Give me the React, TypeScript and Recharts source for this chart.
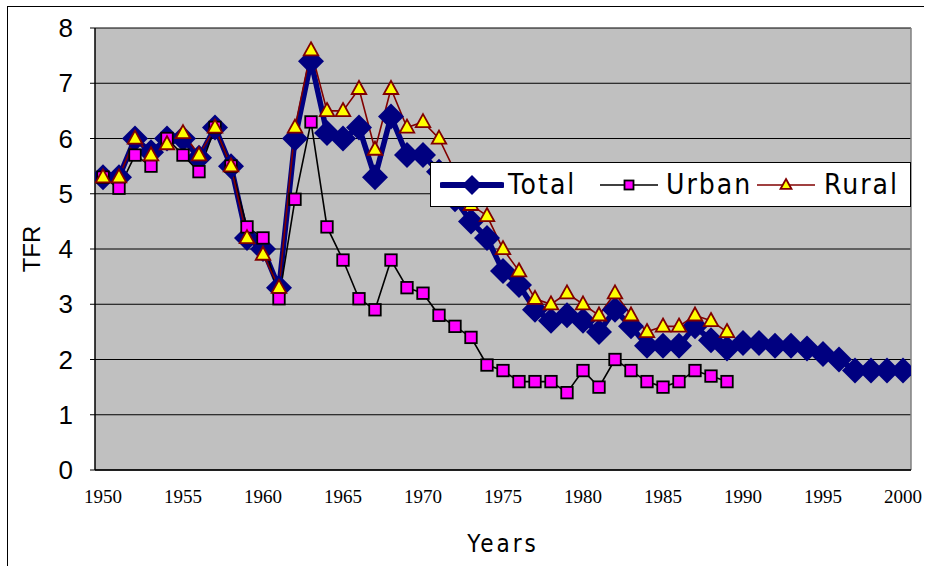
import { CartesianGrid, Legend, Line, LineChart, ReferenceLine, XAxis, YAxis } from "recharts";

const YEARS = [
  1950, 1951, 1952, 1953, 1954, 1955, 1956, 1957, 1958, 1959,
  1960, 1961, 1962, 1963, 1964, 1965, 1966, 1967, 1968, 1969,
  1970, 1971, 1972, 1973, 1974, 1975, 1976, 1977, 1978, 1979,
  1980, 1981, 1982, 1983, 1984, 1985, 1986, 1987, 1988, 1989,
  1990, 1991, 1992, 1993, 1994, 1995, 1996, 1997, 1998, 1999, 2000,
];

const TOTAL = [
  5.3, 5.3, 6.0, 5.75, 6.0, 6.0, 5.65, 6.2, 5.5, 4.2,
  4.0, 3.3, 6.0, 7.4, 6.1, 6.0, 6.2, 5.3, 6.4, 5.7,
  5.7, 5.4, 4.9, 4.5, 4.2, 3.6, 3.35, 2.9, 2.7, 2.8,
  2.7, 2.5, 2.9, 2.6, 2.25, 2.25, 2.25, 2.6, 2.35, 2.2,
  2.3, 2.3, 2.25, 2.25, 2.2, 2.1, 2.0, 1.8, 1.8, 1.8, 1.8,
];

const URBAN = [
  5.3, 5.1, 5.7, 5.5, 6.0, 5.7, 5.4, 6.2, 5.5, 4.4,
  4.2, 3.1, 4.9, 6.3, 4.4, 3.8, 3.1, 2.9, 3.8, 3.3,
  3.2, 2.8, 2.6, 2.4, 1.9, 1.8, 1.6, 1.6, 1.6, 1.4,
  1.8, 1.5, 2.0, 1.8, 1.6, 1.5, 1.6, 1.8, 1.7, 1.6,
];

const RURAL = [
  5.3, 5.3, 6.0, 5.7, 5.9, 6.1, 5.7, 6.2, 5.5, 4.2,
  3.9, 3.3, 6.2, 7.6, 6.5, 6.5, 6.9, 5.8, 6.9, 6.2,
  6.3, 6.0, 5.4, 4.8, 4.6, 4.0, 3.6, 3.1, 3.0, 3.2,
  3.0, 2.8, 3.2, 2.8, 2.5, 2.6, 2.6, 2.8, 2.7, 2.5,
];

const X_TICKS = [1950, 1955, 1960, 1965, 1970, 1975, 1980, 1985, 1990, 1995, 2000];
const Y_TICKS = [0, 1, 2, 3, 4, 5, 6, 7, 8];
// tick marks sit between categories, like Excel
const EDGE_TICKS = [...YEARS.map((y) => y - 0.5), 2000.5];

const data = YEARS.map((year, i) => ({
  year,
  total: TOTAL[i],
  urban: URBAN[i] ?? null,
  rural: RURAL[i] ?? null,
}));

const NAVY = "#000080";
const MAROON = "#800000";
const MAGENTA = "#FF00FF";
const YELLOW = "#FFFF00";
const NARROW = "'Liberation Sans Narrow', 'DejaVu Sans Condensed', 'Liberation Sans', sans-serif";

function Diamond({ cx, cy, r = 13 }: any) {
  if (cx == null || cy == null) return null;
  return <path d={`M${cx},${cy - r}L${cx + r},${cy}L${cx},${cy + r}L${cx - r},${cy}Z`} fill={NAVY} />;
}

function Square({ cx, cy, s = 11.5 }: any) {
  if (cx == null || cy == null) return null;
  return <rect x={cx - s / 2} y={cy - s / 2} width={s} height={s} fill={MAGENTA} stroke="#000" strokeWidth={1.8} />;
}

function Triangle({ cx, cy, s = 14.5 }: any) {
  if (cx == null || cy == null) return null;
  const h = s * 0.9;
  return (
    <path
      d={`M${cx},${cy - h * 0.6}L${cx + s / 2},${cy + h * 0.4}L${cx - s / 2},${cy + h * 0.4}Z`}
      fill={YELLOW}
      stroke={MAROON}
      strokeWidth={1.8}
      strokeLinejoin="miter"
    />
  );
}

function LegendBox() {
  const text: any = {
    position: "absolute",
    top: 0,
    fontFamily: NARROW,
    fontSize: 28,
    letterSpacing: 2,
    color: "#000",
    lineHeight: "43px",
  };
  const icon: any = { position: "absolute", top: 7 };
  return (
    <div style={{ position: "relative", width: 479, height: 43, background: "#fff", border: "1px solid #000" }}>
      <svg width={64} height={30} style={{ ...icon, left: 9 }}>
        <line x1={2} y1={15} x2={62} y2={15} stroke={NAVY} strokeWidth={6} strokeLinecap="round" />
        <Diamond cx={32} cy={15} r={10} />
      </svg>
      <span style={{ ...text, left: 77 }}>Total</span>
      <svg width={58} height={30} style={{ ...icon, left: 169 }}>
        <line x1={0} y1={15} x2={58} y2={15} stroke="#000" strokeWidth={1.6} />
        <Square cx={29} cy={15} s={9} />
      </svg>
      <span style={{ ...text, left: 235 }}>Urban</span>
      <svg width={58} height={30} style={{ ...icon, left: 326 }}>
        <line x1={0} y1={15} x2={58} y2={15} stroke={MAROON} strokeWidth={1.6} />
        <Triangle cx={29} cy={15} s={11} />
      </svg>
      <span style={{ ...text, left: 393 }}>Rural</span>
    </div>
  );
}

export default function App() {
  return (
    <div style={{ position: "absolute", left: 0, top: 0, width: 929, height: 566, background: "#fff", overflow: "hidden" }}>
      <div
        style={{
          position: "absolute",
          left: 7,
          top: 6,
          width: 916,
          height: 600,
          borderLeft: "1px solid #000",
          borderTop: "1px solid #000",
        }}
      />
      <LineChart width={929} height={566} data={data} margin={{ top: 28, right: 18, bottom: 0, left: 0 }}>
        <CartesianGrid vertical={false} fill="#C0C0C0" stroke="#000" strokeOpacity={1} />
        <XAxis
          xAxisId="edges"
          type="number"
          dataKey="year"
          domain={[1949.5, 2000.5]}
          ticks={EDGE_TICKS}
          height={0}
          mirror
          tick={false}
          tickSize={5}
          tickLine={{ stroke: "#000" }}
          axisLine={false}
          allowDataOverflow
        />
        <XAxis
          type="number"
          dataKey="year"
          domain={[1949.5, 2000.5]}
          ticks={X_TICKS}
          interval={0}
          height={96}
          tickLine={false}
          tickSize={0}
          tickMargin={20}
          axisLine={{ stroke: "#000", strokeWidth: 1.5 }}
          tick={{ fill: "#000", fontSize: 19, fontFamily: "'Liberation Serif', 'Times New Roman', serif" }}
          allowDataOverflow
          label={{
            value: "Years",
            position: "insideBottom",
            offset: 14,
            fill: "#000",
            fontSize: 24,
            fontFamily: NARROW,
            letterSpacing: 3,
          }}
        />
        <YAxis
          domain={[0, 8]}
          ticks={Y_TICKS}
          interval={0}
          width={95}
          tickSize={5}
          tickMargin={17}
          tickLine={{ stroke: "#000" }}
          axisLine={{ stroke: "#000", strokeWidth: 1.5 }}
          tick={{ fill: "#000", fontSize: 26, fontFamily: "'Liberation Sans', Arial, sans-serif" }}
          label={{
            content: ({ viewBox }: any) => (
              <text
                x={viewBox.x + 31}
                y={viewBox.y + viewBox.height / 2}
                transform={`rotate(-90 ${viewBox.x + 31} ${viewBox.y + viewBox.height / 2})`}
                textAnchor="middle"
                dominantBaseline="central"
                fontSize={24}
                fontFamily="'Liberation Sans', Arial, sans-serif"
                fill="#000"
              >
                TFR
              </text>
            ),
          }}
        />
        <ReferenceLine x={2000.5} stroke="#808080" strokeWidth={1.5} />
        <Line
          dataKey="total"
          name="Total"
          stroke={NAVY}
          strokeWidth={5.5}
          dot={(p: any) => <Diamond key={`t${p.index}`} cx={p.cx} cy={p.cy} />}
          activeDot={false}
          isAnimationActive={false}
        />
        <Line
          dataKey="urban"
          name="Urban"
          stroke="#000"
          strokeWidth={1.6}
          dot={(p: any) => <Square key={`u${p.index}`} cx={p.cx} cy={p.cy} />}
          activeDot={false}
          isAnimationActive={false}
        />
        <Line
          dataKey="rural"
          name="Rural"
          stroke={MAROON}
          strokeWidth={1.6}
          dot={(p: any) => <Triangle key={`r${p.index}`} cx={p.cx} cy={p.cy} />}
          activeDot={false}
          isAnimationActive={false}
        />
        <Legend
          layout="horizontal"
          verticalAlign="middle"
          align="center"
          content={() => <LegendBox />}
          wrapperStyle={{ position: "absolute", left: 430, top: 162, width: 481, height: 45 }}
        />
      </LineChart>
    </div>
  );
}
